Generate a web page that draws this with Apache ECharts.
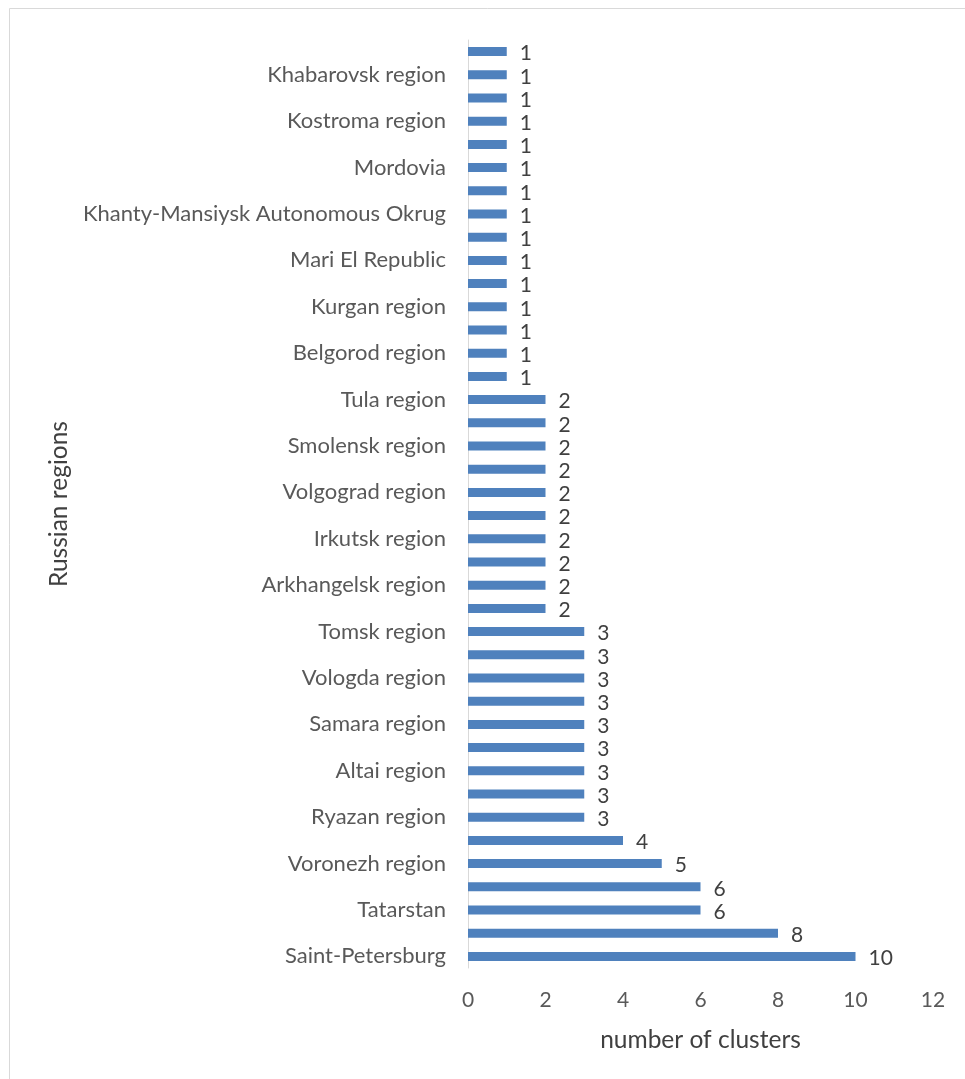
<!DOCTYPE html>
<html>
<head>
<meta charset="utf-8">
<script src="https://cdn.jsdelivr.net/npm/echarts@6/dist/echarts.min.js"></script>
<style>
html,body{margin:0;padding:0;background:#fff;}
#chart{width:965px;height:1079px;}
</style>
</head>
<body>
<div id="chart"></div>
<script>
// categories from bottom to top (only every other label is visible in the reference)
var categories = [
  'Saint-Petersburg', '', 'Tatarstan', '', 'Voronezh region', '',
  'Ryazan region', '', 'Altai region', '', 'Samara region', '',
  'Vologda region', '', 'Tomsk region', '', 'Arkhangelsk region', '',
  'Irkutsk region', '', 'Volgograd region', '', 'Smolensk region', '',
  'Tula region', '', 'Belgorod region', '', 'Kurgan region', '',
  'Mari El Republic', '', 'Khanty-Mansiysk Autonomous Okrug', '', 'Mordovia', '',
  'Kostroma region', '', 'Khabarovsk region', ''
];
var values = [
  10, 8, 6, 6, 5, 4,
  3, 3, 3, 3, 3, 3, 3, 3, 3,
  2, 2, 2, 2, 2, 2, 2, 2, 2, 2,
  1, 1, 1, 1, 1, 1, 1, 1, 1, 1, 1, 1, 1, 1, 1
];
var xTicks = {min: 0, max: 12, interval: 2};

var chart = echarts.init(document.getElementById('chart'));
var font = 'Lato';
chart.setOption({
  animation: false,
  backgroundColor: '#fff',
  graphic: [{
    type: 'rect', shape: {x: 9.5, y: 8.5, width: 1100, height: 1200},
    style: {fill: 'none', stroke: '#d9d9d9', lineWidth: 1}, silent: true
  }],
  grid: {left: 468, right: 32, top: 40, bottom: 111, containLabel: false},
  xAxis: {
    type: 'value', min: xTicks.min, max: xTicks.max, interval: xTicks.interval,
    axisLine: {show: false}, axisTick: {show: false}, splitLine: {show: false},
    axisLabel: {color: '#595959', fontSize: 21, fontFamily: font, margin: 22},
    name: 'number of clusters', nameLocation: 'middle', nameGap: 60,
    nameTextStyle: {color: '#404040', fontSize: 24.5, fontFamily: font}
  },
  yAxis: {
    type: 'category', data: categories,
    axisLine: {show: true, lineStyle: {color: '#d9d9d9', width: 1}},
    axisTick: {show: false}, splitLine: {show: false},
    axisLabel: {color: '#595959', fontSize: 22, fontFamily: font, margin: 22, interval: 0},
    name: 'Russian regions', nameLocation: 'middle', nameGap: 396, nameRotate: 90,
    nameTextStyle: {color: '#404040', fontSize: 24.5, fontFamily: font}
  },
  series: [{
    type: 'bar', data: values, barWidth: 9,
    itemStyle: {color: '#4f81bd'},
    label: {show: true, position: 'right', distance: 13, color: '#404040',
            fontSize: 21, fontFamily: font, offset: [0, 2]}
  }]
});
</script>
</body>
</html>
